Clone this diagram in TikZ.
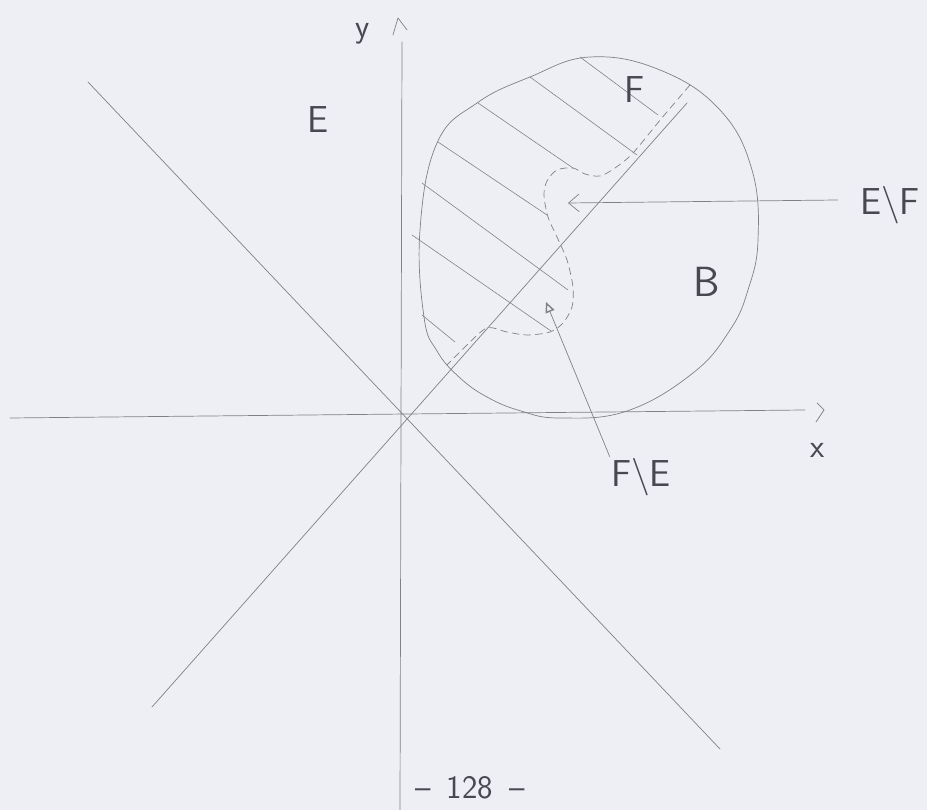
\documentclass[tikz,border=0pt]{standalone}
\usetikzlibrary{arrows.meta}
\definecolor{paper}{RGB}{238,238,245}
\definecolor{pencil}{RGB}{128,128,134}
\definecolor{lead}{RGB}{72,72,80}
\tikzset{
  pencil/.style={draw=pencil,line width=0.6pt,line cap=round,line join=round},
  hatch/.style={pencil,line width=0.5pt},
  boundary/.style={pencil,dash pattern=on 6pt off 4pt},
  lbl/.style={text=lead,font=\sffamily\fontsize{32}{36}\selectfont,inner sep=1pt,text depth=0pt},
  smalllbl/.style={lbl,font=\sffamily\fontsize{28}{32}\selectfont}
}
\begin{document}
\begin{tikzpicture}[x=0.3mm,y=0.3mm]
  \fill[paper] (-403,-395) rectangle (524,415);
  \useasboundingbox (-403,-395) rectangle (524,415);
  % axes
  \draw[pencil] (-393,-3) -- (402,5);
  \draw[pencil] (414,12) -- (421,5) -- (413,-7);
  \draw[pencil] (-3,-395) -- (-1,373);
  \draw[pencil] (-10,380) -- (-5,397) -- (4,385);
  % diagonals
  \draw[pencil] (-251,-292) -- (284,312);
  \draw[pencil] (-315,333) -- (317,-334);
  % the set B
  \draw[pencil] plot[smooth cycle,tension=0.7] coordinates {
    (17,185) (34,272) (74,312) (127,338) (187,358) (257,345) (317,305)
    (349,245) (355,175) (345,125) (327,85) (290,42) (224,4) (157,-3)
    (118,4) (84,18) (56,38) (34,64) (21,98)};
  % hatching of F
  \draw[hatch] (177,358) -- (255,300);
  \draw[hatch] (127,338) -- (234,260);
  \draw[hatch] (75,312) -- (170,247);
  \draw[hatch] (35,273) -- (144,200);
  \draw[hatch] (19,232) -- (165,125);
  \draw[hatch] (9,180) -- (148,84);
  \draw[hatch] (19,100) -- (52,73);
  % boundary of F
  \draw[boundary] plot[smooth,tension=0.5] coordinates {
    (287,330) (258,296) (230,262) (212,247) (197,239) (182,241) (170,247)
    (154,245) (144,234) (141,220) (145,198) (154,178) (164,155) (170,128)
    (169,108) (160,92) (147,83) (124,80) (104,83) (84,87) (64,70) (44,50)};
  % labels
  \node[smalllbl] (yLbl) at (-40,385) {y};
  \node[smalllbl] (xLbl) at (415,-35) {x};
  \node[lbl] (eLbl) at (-85,295) {E};
  \node[lbl] (fLbl) at (232,325) {F};
  \node[lbl,font=\sffamily\fontsize{36}{40}\selectfont] (bLbl) at (304,133) {B};
  \node[lbl,inner xsep=19pt] (efLbl) at (487,215) {E\textbackslash F};
  \node[lbl] (feLbl) at (238,-57) {F\textbackslash E};
  \node[smalllbl] (pageLbl) at (67,-372) {--\enspace128\enspace--};
  \coordinate (efTip) at (165,212);
  \coordinate (feTip) at (143,113);
  \draw[pencil,-{Straight Barb[length=9pt,width=15pt]}] (efLbl.west) -- (efTip);
  \draw[pencil,-{Triangle[open,length=9pt,width=8pt,line width=1.2pt]}] (feLbl.north west) -- (feTip);
\end{tikzpicture}
\end{document}
